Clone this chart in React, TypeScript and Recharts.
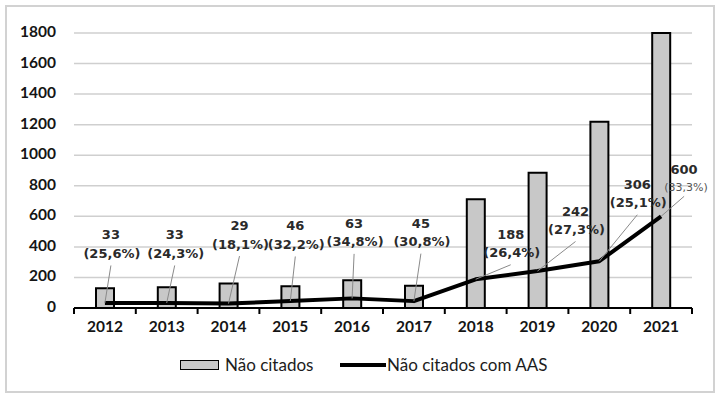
import React from 'react';
import { ComposedChart, Bar, Line, XAxis, YAxis, CartesianGrid, Legend, LabelList } from 'recharts';

// ---- data ----
const years = ['2012', '2013', '2014', '2015', '2016', '2017', '2018', '2019', '2020', '2021'];
const naoCitados = [129, 136, 160, 143, 181, 146, 712, 886, 1219, 1800];
const naoCitadosComAAS = [33, 33, 29, 46, 63, 45, 188, 242, 306, 600];
const percentLabels = ['25,6%', '24,3%', '18,1%', '32,2%', '34,8%', '30,8%', '26,4%', '27,3%', '25,1%', '33,3%'];
const yTicks = [0, 200, 400, 600, 800, 1000, 1200, 1400, 1600, 1800];

const seriesBarName = 'Não citados';
const seriesLineName = 'Não citados com AAS';

// ---- layout (not data) ----
const W = 718;
const H = 396;
const MARGIN = { top: 33, right: 26, bottom: 19, left: 0 };
const Y_AXIS_W = 74;
const X_AXIS_H = 45;
const LEGEND_H = 24;
const PLOT_W = W - MARGIN.left - MARGIN.right - Y_AXIS_W;
const HALF_BAND = PLOT_W / years.length / 2;

// label offsets relative to the line point: [dx, dy of value text, small percent?]
const labelOffsets: [number, number, boolean][] = [
  [6, -67, false],
  [8, -67, false],
  [11, -77, false],
  [5, -74, false],
  [2, -74, false],
  [7, -77, false],
  [35, -44, false],
  [38, -59, false],
  [38, -76, false],
  [23, -46, true],
];

const data = years.map((y, i) => ({
  year: y,
  bar: naoCitados[i],
  line: naoCitadosComAAS[i],
}));

const AXIS_FONT = 'Lato, "Open Sans", sans-serif';
const LABEL_FONT = '"DejaVu Sans", Verdana, sans-serif';

const XTick = (props: any) => {
  const { x, y, payload, index } = props;
  const last = index === years.length - 1;
  return (
    <g>
      <line x1={x - HALF_BAND} x2={x - HALF_BAND} y1={y} y2={y + 6} stroke="#000" strokeWidth={2} />
      {last && <line x1={x + HALF_BAND} x2={x + HALF_BAND} y1={y} y2={y + 6} stroke="#000" strokeWidth={2} />}
      <text x={x} y={y + 20} textAnchor="middle" dominantBaseline="middle" fontFamily={AXIS_FONT} fontWeight={700} fontSize={15.5} fill="#151515">
        {payload.value}
      </text>
    </g>
  );
};

const YTick = (props: any) => {
  const { x, y, payload } = props;
  return (
    <text x={x - 18} y={y} textAnchor="end" dominantBaseline="middle" fontFamily={AXIS_FONT} fontWeight={700} fontSize={15.5} fill="#151515">
      {payload.value}
    </text>
  );
};

const PointLabel = (props: any) => {
  const { x, y, index, value } = props;
  const [dx, dy, small] = labelOffsets[index];
  const lx = x + dx;
  const vy = y + dy;
  const py = vy + (small ? 18 : 18.5);
  return (
    <g>
      <line x1={x} y1={y} x2={lx} y2={py + (small ? 8 : 11)} stroke="#8a8a8a" strokeWidth={1} />
      <text x={lx} y={vy} textAnchor="middle" dominantBaseline="middle" fontFamily={LABEL_FONT} fontWeight={700} fontSize={13} fill="#2a2a2a">
        {value}
      </text>
      <text x={lx + (small ? 2 : 1)} y={py} textAnchor="middle" dominantBaseline="middle" fontFamily={LABEL_FONT} fontWeight={small ? 400 : 700} fontSize={small ? 11 : 13} fill={small ? '#555' : '#2a2a2a'}>
        {'(' + percentLabels[index] + ')'}
      </text>
    </g>
  );
};

const LegendContent = () => (
  <div style={{ position: 'relative', height: LEGEND_H, width: W - MARGIN.left - MARGIN.right }}>
    <div style={{ position: 'absolute', left: 180, top: 7, width: 37, height: 8, background: '#c8c8c8', border: '1.5px solid #000' }} />
    <span style={{ position: 'absolute', left: 225, top: 0, lineHeight: '24px', fontFamily: AXIS_FONT, fontSize: 17, color: '#1c1c1c', whiteSpace: 'nowrap' }}>
      {seriesBarName}
    </span>
    <div style={{ position: 'absolute', left: 340, top: 10, width: 46, height: 4, background: '#000' }} />
    <span style={{ position: 'absolute', left: 387, top: 0, lineHeight: '24px', fontFamily: AXIS_FONT, fontSize: 17, color: '#1c1c1c', whiteSpace: 'nowrap' }}>
      {seriesLineName}
    </span>
  </div>
);

export default function App() {
  return (
    <div style={{ position: 'absolute', left: 0, top: 0, width: W, height: H, background: '#fff' }}>
      <ComposedChart width={W} height={H} data={data} margin={MARGIN}>
        <CartesianGrid vertical={false} stroke="#cfcfcf" strokeWidth={1.5} />
        <XAxis
          dataKey="year"
          height={X_AXIS_H}
          tickLine={false}
          tickSize={0}
          tickMargin={0}
          axisLine={{ stroke: '#000', strokeWidth: 2 }}
          tick={<XTick />}
          interval={0}
        />
        <YAxis
          width={Y_AXIS_W}
          domain={[0, 1800]}
          ticks={yTicks}
          axisLine={false}
          tickLine={false}
          tickSize={0}
          tickMargin={0}
          tick={<YTick />}
        />
        <Legend verticalAlign="bottom" height={LEGEND_H} content={<LegendContent />} />
        <Bar dataKey="bar" name={seriesBarName} fill="#c8c8c8" stroke="#000" strokeWidth={2} barSize={18} isAnimationActive={false} />
        <Line
          dataKey="line"
          name={seriesLineName}
          stroke="#000"
          strokeWidth={4}
          dot={false}
          strokeLinejoin="round"
          isAnimationActive={false}
        >
          <LabelList dataKey="line" content={<PointLabel />} />
        </Line>
      </ComposedChart>
      <div style={{ position: 'absolute', left: 5, top: 5, width: 706, height: 384, border: '2px solid #d2d2d2', pointerEvents: 'none' }} />
    </div>
  );
}
